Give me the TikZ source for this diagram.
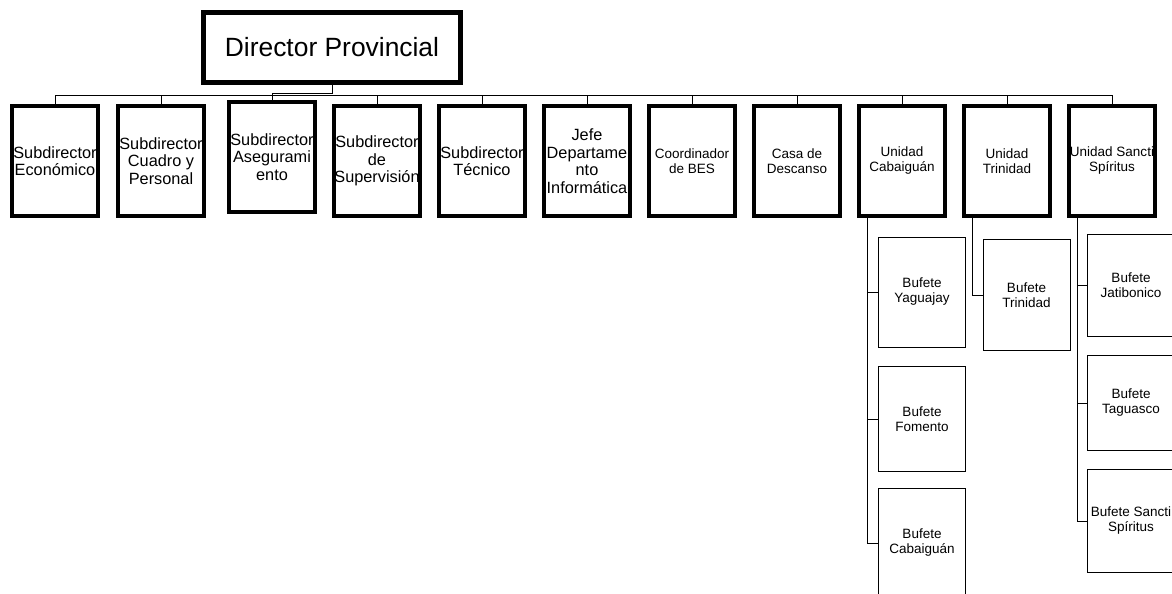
\documentclass[tikz,border=0pt]{standalone}
\usepackage{fontspec}
\setmainfont{Liberation Sans}
\usetikzlibrary{matrix}

\begin{document}
\begin{tikzpicture}[x=1pt,y=-1pt,
    box/.style={draw,line width=4pt,align=center,inner sep=0pt,
      minimum width=86pt,minimum height=110pt,font=\fontsize{16.3}{17.5}\selectfont},
    smalltext/.style={font=\fontsize{13.5}{15}\selectfont},
    bufete/.style={draw,line width=0.9pt,align=center,inner sep=0pt,
      minimum width=87pt,font=\fontsize{13.5}{15}\selectfont},
    conn/.style={line width=0.9pt}]
  \path[use as bounding box,fill=white] (0,0) rectangle (1172,594);

  \node[draw,line width=5pt,minimum width=257pt,minimum height=70pt,
    font=\fontsize{26.4}{30}\selectfont] (dir) at (332,47.5) {Director Provincial};

  \matrix (m) [column sep=15pt,inner sep=0pt,outer sep=0pt,anchor=north west] at (10,100)
  {
     \node[box] (econ) {Subdirector\\Económico}; &[1pt]
     \node[box] (cuadro) {Subdirector\\Cuadro y\\Personal}; &[6pt]
     \node[box,yshift=4pt] (aseg) {Subdirector\\Asegurami\\ento}; &
     \node[box] (superv) {Subdirector\\de\\Supervisión}; &
     \node[box] (tecn) {Subdirector\\Técnico}; &
     \node[box] (infor) {Jefe\\Departame\\nto\\Informática}; & % subdirecciones
     \node[box,smalltext] (coord) {Coordinador\\de BES}; &
     \node[box,smalltext] (casa) {Casa de\\Descanso}; &
     \node[box,smalltext] (ucab) {Unidad\\Cabaiguán}; &
     \node[box,smalltext] (utri) {Unidad\\Trinidad}; &
     \node[box,smalltext] (ussp) {Unidad Sancti\\Spíritus}; \\ % unidades
  };

  \node[bufete,minimum height=110pt] (yag) at (922,292) {Bufete\\Yaguajay};
  \node[bufete,minimum height=105pt] (fom) at (922,419) {Bufete\\Fomento};
  \node[bufete,minimum height=110pt] (cab) at (922,543) {Bufete\\Cabaiguán};
  \node[bufete,minimum height=111pt] (tri) at (1026.5,295) {Bufete\\Trinidad};
  \node[bufete,minimum height=102pt] (jat) at (1131,285.5) {Bufete\\Jatibonico};
  \node[bufete,minimum height=95pt] (tag) at (1131,403) {Bufete\\Taguasco};
  \node[bufete,minimum height=103pt] (ssp) at (1131,521) {Bufete Sancti\\Spíritus};

  \coordinate (bus) at (0,95);
  \coordinate (cabtop) at ([xshift=8pt]ucab.south west);
  \coordinate (tritop) at ([xshift=8pt]utri.south west);
  \coordinate (ssptop) at ([xshift=8pt]ussp.south west);

  \draw[conn] (econ.north) |- (ussp.north |- bus) -- (ussp.north);
  \draw[conn] (dir.south) -- ++(0,8) -| (aseg.north);
  \path[conn]
    (cuadro.north) edge (cuadro.north |- bus)
    (superv.north) edge (superv.north |- bus)
    (tecn.north) edge (tecn.north |- bus)
    (infor.north) edge (infor.north |- bus)
    (coord.north) edge (coord.north |- bus)
    (casa.north) edge (casa.north |- bus)
    (ucab.north) edge (ucab.north |- bus)
    (utri.north) edge (utri.north |- bus);
  \draw[conn] (cabtop) |- (yag.west) (cabtop) |- (fom.west) (cabtop) |- (cab.west);
  \draw[conn] (tritop) |- (tri.west);
  \draw[conn] (ssptop) |- (jat.west) (ssptop) |- (tag.west) (ssptop) |- (ssp.west);
\end{tikzpicture}
\end{document}
